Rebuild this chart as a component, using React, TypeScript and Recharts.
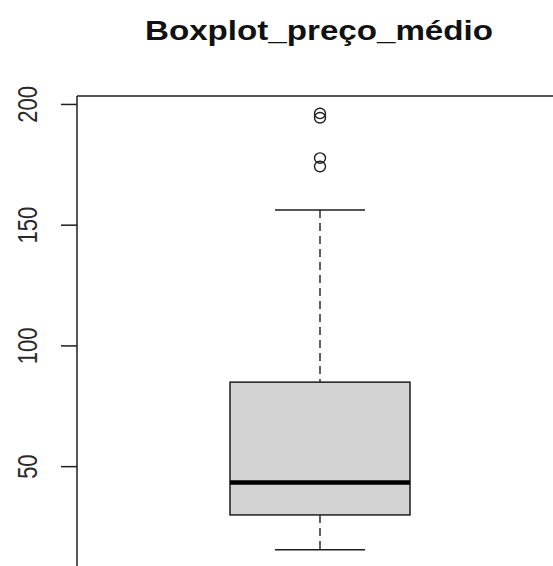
import { ComposedChart, Bar, Scatter, XAxis, YAxis, ReferenceLine } from "recharts";

// five-number summary
const categories = ["preço_médio"];
const lowerWhisker = [15.6];
const q1 = [30];
const median = [43.4];
const q3 = [85];
const upperWhisker = [156.3];
const outlierValues = [196.3, 194.5, 177.8, 174.3];
const yTicks = [50, 100, 150, 200];
const yDomain: [number, number] = [7.2, 203.5];

const INK = "#1e1e1e";

const boxData = categories.map((name, i) => ({
  name,
  range: [lowerWhisker[i], upperWhisker[i]],
  low: lowerWhisker[i],
  q1: q1[i],
  med: median[i],
  q3: q3[i],
  high: upperWhisker[i],
}));

const outlierData = outlierValues.map((value) => ({ name: categories[0], value }));

const BoxShape = (props: any) => {
  const { x, y, width, height, payload } = props;
  if (!payload || height == null) return null;
  const { low, q1: b1, med, q3: b3, high } = payload;
  const perUnit = height / (high - low);
  const yOf = (v: number) => y + (high - v) * perUnit;
  const cx = x + width / 2;
  const capHalf = width / 4;
  return (
    <g>
      <line x1={cx} x2={cx} y1={yOf(high)} y2={yOf(b3)} stroke={INK} strokeWidth={1.4} strokeDasharray="8 5" />
      <line x1={cx} x2={cx} y1={yOf(b1)} y2={yOf(low)} stroke={INK} strokeWidth={1.4} strokeDasharray="8 5" />
      <line x1={cx - capHalf} x2={cx + capHalf} y1={yOf(high)} y2={yOf(high)} stroke={INK} strokeWidth={1.5} />
      <line x1={cx - capHalf} x2={cx + capHalf} y1={yOf(low)} y2={yOf(low)} stroke={INK} strokeWidth={1.5} />
      <rect
        x={x}
        y={yOf(b3)}
        width={width}
        height={yOf(b1) - yOf(b3)}
        fill="#d3d3d3"
        stroke={INK}
        strokeWidth={1.5}
      />
      <line x1={x} x2={x + width} y1={yOf(med)} y2={yOf(med)} stroke="#000" strokeWidth={4.5} />
    </g>
  );
};

const OutlierShape = (props: any) => {
  const { cx, cy } = props;
  if (cx == null || cy == null) return null;
  return <ellipse cx={cx} cy={cy} rx={5.5} ry={5.2} fill="none" stroke={INK} strokeWidth={1.4} />;
};

const RotatedTick = (props: any) => {
  const { x, y, payload } = props;
  return (
    <g transform={`translate(${x - 34},${y}) scale(1.27,1) rotate(-90)`}>
      <text
        x={0}
        y={0}
        textAnchor="middle"
        dominantBaseline="central"
        fontFamily="'Liberation Sans', Arial, sans-serif"
        fontSize={22}
        fill="#2a2a2a"
      >
        {payload.value}
      </text>
    </g>
  );
};

export default function App() {
  return (
    <div style={{ position: "relative", width: 553, height: 566, overflow: "hidden", background: "#fff" }}>
      <style>{`body{margin:0;overflow:hidden;background:#fff}`}</style>
      <svg width={553} height={60} style={{ position: "absolute", left: 0, top: 0 }}>
        <text
          x={319}
          y={39.5}
          textAnchor="middle"
          fontFamily="'Liberation Sans', Arial, sans-serif"
          fontWeight="bold"
          fontSize={27}
          textLength={348}
          lengthAdjust="spacingAndGlyphs"
          fill="#111"
        >
          Boxplot_preço_médio
        </text>
      </svg>
      <div style={{ position: "absolute", left: 0, top: 0 }}>
        <ComposedChart
          width={563}
          height={580}
          data={boxData}
          margin={{ top: 96, right: 0, bottom: 10, left: 0 }}
        >
          <XAxis dataKey="name" type="category" allowDuplicatedCategory={false} hide />
          <YAxis
            type="number"
            domain={yDomain}
            allowDataOverflow
            ticks={yTicks}
            width={77}
            tickSize={16}
            tickMargin={0}
            axisLine={{ stroke: INK, strokeWidth: 1.5 }}
            tickLine={{ stroke: INK, strokeWidth: 1.5 }}
            tick={<RotatedTick />}
          />
          <ReferenceLine y={yDomain[1]} stroke={INK} strokeWidth={1.5} />
          <Bar dataKey="range" barSize={180} shape={<BoxShape />} isAnimationActive={false} />
          <Scatter
            data={outlierData}
            dataKey="value"
            shape={<OutlierShape />}
            isAnimationActive={false}
          />
        </ComposedChart>
      </div>
    </div>
  );
}
